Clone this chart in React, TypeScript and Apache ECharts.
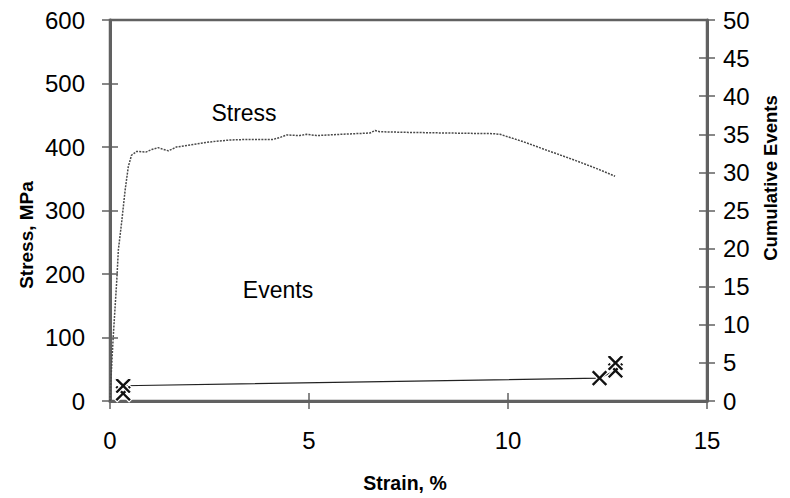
import React, { useEffect, useRef } from "react";
import * as echarts from "echarts";

// Tensile test: stress vs strain (left axis) and cumulative acoustic events (right axis)
const strainTicks = [0, 5, 10, 15];
const stressTicks = [0, 100, 200, 300, 400, 500, 600];
const eventTicks = [0, 5, 10, 15, 20, 25, 30, 35, 40, 45, 50];

// [strain %, stress MPa]
const stressCurve: [number, number][] = [
  [0, 0], [0.02, 30], [0.05, 65], [0.08, 100], [0.13, 150], [0.17, 190],
  [0.21, 238], [0.29, 280], [0.38, 332], [0.46, 369], [0.54, 387], [0.67, 393],
  [0.9, 392], [1.05, 396], [1.21, 399], [1.35, 396], [1.47, 394], [1.67, 400],
  [2.1, 404], [2.51, 408], [3.0, 411], [3.52, 412], [4.1, 412], [4.27, 415],
  [4.44, 419], [4.77, 418], [4.94, 420], [5.19, 418], [5.8, 420], [6.53, 422],
  [6.66, 426], [6.78, 424], [7.5, 423], [8.5, 422], [9.63, 421], [9.8, 420],
  [10.4, 408], [10.97, 395], [11.6, 381], [12.23, 366], [12.69, 354],
];

// [strain %, cumulative events]
const eventPoints: [number, number][] = [
  [0.33, 1], [0.33, 2], [12.3, 3], [12.7, 4], [12.7, 5],
];

const crossMark =
  "path://M0,1.5 L1.5,0 L5,3.5 L8.5,0 L10,1.5 L6.5,5 L10,8.5 L8.5,10 L5,6.5 L1.5,10 L0,8.5 L3.5,5 Z";

const AXIS_GRAY = "#616161";
const FONT = "'Liberation Sans', Arial, sans-serif";

export default function App() {
  const ref = useRef<HTMLDivElement>(null);

  useEffect(() => {
    if (!ref.current) return;
    const chart = echarts.init(ref.current, undefined, { renderer: "svg" });

    const tickStyle = { show: true, length: 8, lineStyle: { color: AXIS_GRAY, width: 1.5 } };
    const hidden = { show: false };

    chart.setOption({
      animation: false,
      backgroundColor: "#ffffff",
      grid: {
        left: 110,
        right: 83,
        top: 20,
        bottom: 97,
        show: true,
        borderColor: AXIS_GRAY,
        borderWidth: 2.5,
      },
      textStyle: { fontFamily: FONT },
      xAxis: [
        {
          type: "value",
          min: 0,
          max: 15,
          interval: 5,
          position: "bottom",
          axisLine: { show: true, onZero: false, lineStyle: { color: AXIS_GRAY, width: 3 } },
          axisTick: tickStyle,
          splitLine: hidden,
          axisLabel: {
            color: "#000",
            fontSize: 24,
            fontFamily: FONT,
            margin: 27,
            formatter: (v: number) => (strainTicks.includes(v) ? String(v) : ""),
          },
        },
        {
          type: "value",
          min: 0,
          max: 15,
          interval: 5,
          position: "bottom",
          axisLine: { show: false, onZero: false },
          axisTick: { ...tickStyle, inside: true },
          axisLabel: hidden,
          splitLine: hidden,
        },
      ],
      yAxis: [
        {
          type: "value",
          min: 0,
          max: 600,
          interval: 100,
          position: "left",
          axisLine: { show: true, onZero: false, lineStyle: { color: AXIS_GRAY, width: 3 } },
          axisTick: tickStyle,
          splitLine: hidden,
          axisLabel: {
            color: "#000",
            fontSize: 24,
            fontFamily: FONT,
            margin: 25,
            formatter: (v: number) => (stressTicks.includes(v) ? String(v) : ""),
          },
        },
        {
          type: "value",
          min: 0,
          max: 50,
          interval: 5,
          position: "right",
          axisLine: { show: true, onZero: false, lineStyle: { color: AXIS_GRAY, width: 3 } },
          axisTick: tickStyle,
          splitLine: hidden,
          axisLabel: {
            color: "#000",
            fontSize: 24,
            fontFamily: FONT,
            margin: 16,
            formatter: (v: number) => (eventTicks.includes(v) ? String(v) : ""),
          },
        },
        {
          type: "value",
          min: 0,
          max: 600,
          interval: 100,
          position: "left",
          axisLine: { show: false, onZero: false },
          axisTick: { ...tickStyle, inside: true },
          axisLabel: hidden,
          splitLine: hidden,
        },
        {
          type: "value",
          min: 0,
          max: 50,
          interval: 5,
          position: "right",
          axisLine: { show: false, onZero: false },
          axisTick: { ...tickStyle, inside: true },
          axisLabel: hidden,
          splitLine: hidden,
        },
      ],
      series: [
        {
          name: "Stress",
          type: "line",
          xAxisIndex: 0,
          yAxisIndex: 0,
          data: stressCurve,
          showSymbol: false,
          symbol: "none",
          lineStyle: { color: "#4a4a4a", width: 1.5, type: [2, 1.2] },
          z: 3,
        },
        {
          name: "Events",
          type: "line",
          xAxisIndex: 0,
          yAxisIndex: 1,
          data: eventPoints,
          symbol: crossMark,
          symbolSize: 17,
          showAllSymbol: true,
          lineStyle: { color: "#222", width: 1.2 },
          itemStyle: { color: "#111", borderColor: "#fff", borderWidth: 1.2 },
          z: 4,
        },
      ],
      graphic: [
        {
          type: "text",
          x: 244,
          y: 113,
          style: {
            text: "Stress",
            font: `23px ${FONT}`,
            fill: "#000",
            align: "center",
            verticalAlign: "middle",
          },
        },
        {
          type: "text",
          x: 278,
          y: 290,
          style: {
            text: "Events",
            font: `23px ${FONT}`,
            fill: "#000",
            align: "center",
            verticalAlign: "middle",
          },
        },
        {
          type: "text",
          x: 26,
          y: 235,
          rotation: Math.PI / 2,
          style: {
            text: "Stress, MPa",
            font: `bold 19px ${FONT}`,
            fill: "#000",
            align: "center",
            verticalAlign: "middle",
          },
        },
        {
          type: "text",
          x: 770,
          y: 178,
          rotation: Math.PI / 2,
          style: {
            text: "Cumulative Events",
            font: `bold 18.5px ${FONT}`,
            fill: "#000",
            align: "center",
            verticalAlign: "middle",
          },
        },
        {
          type: "text",
          x: 405,
          y: 483,
          style: {
            text: "Strain, %",
            font: `bold 19.5px ${FONT}`,
            fill: "#000",
            align: "center",
            verticalAlign: "middle",
          },
        },
      ],
    });

    return () => chart.dispose();
  }, []);

  return <div ref={ref} style={{ width: 790, height: 498, position: "absolute", left: 0, top: 0 }} />;
}
